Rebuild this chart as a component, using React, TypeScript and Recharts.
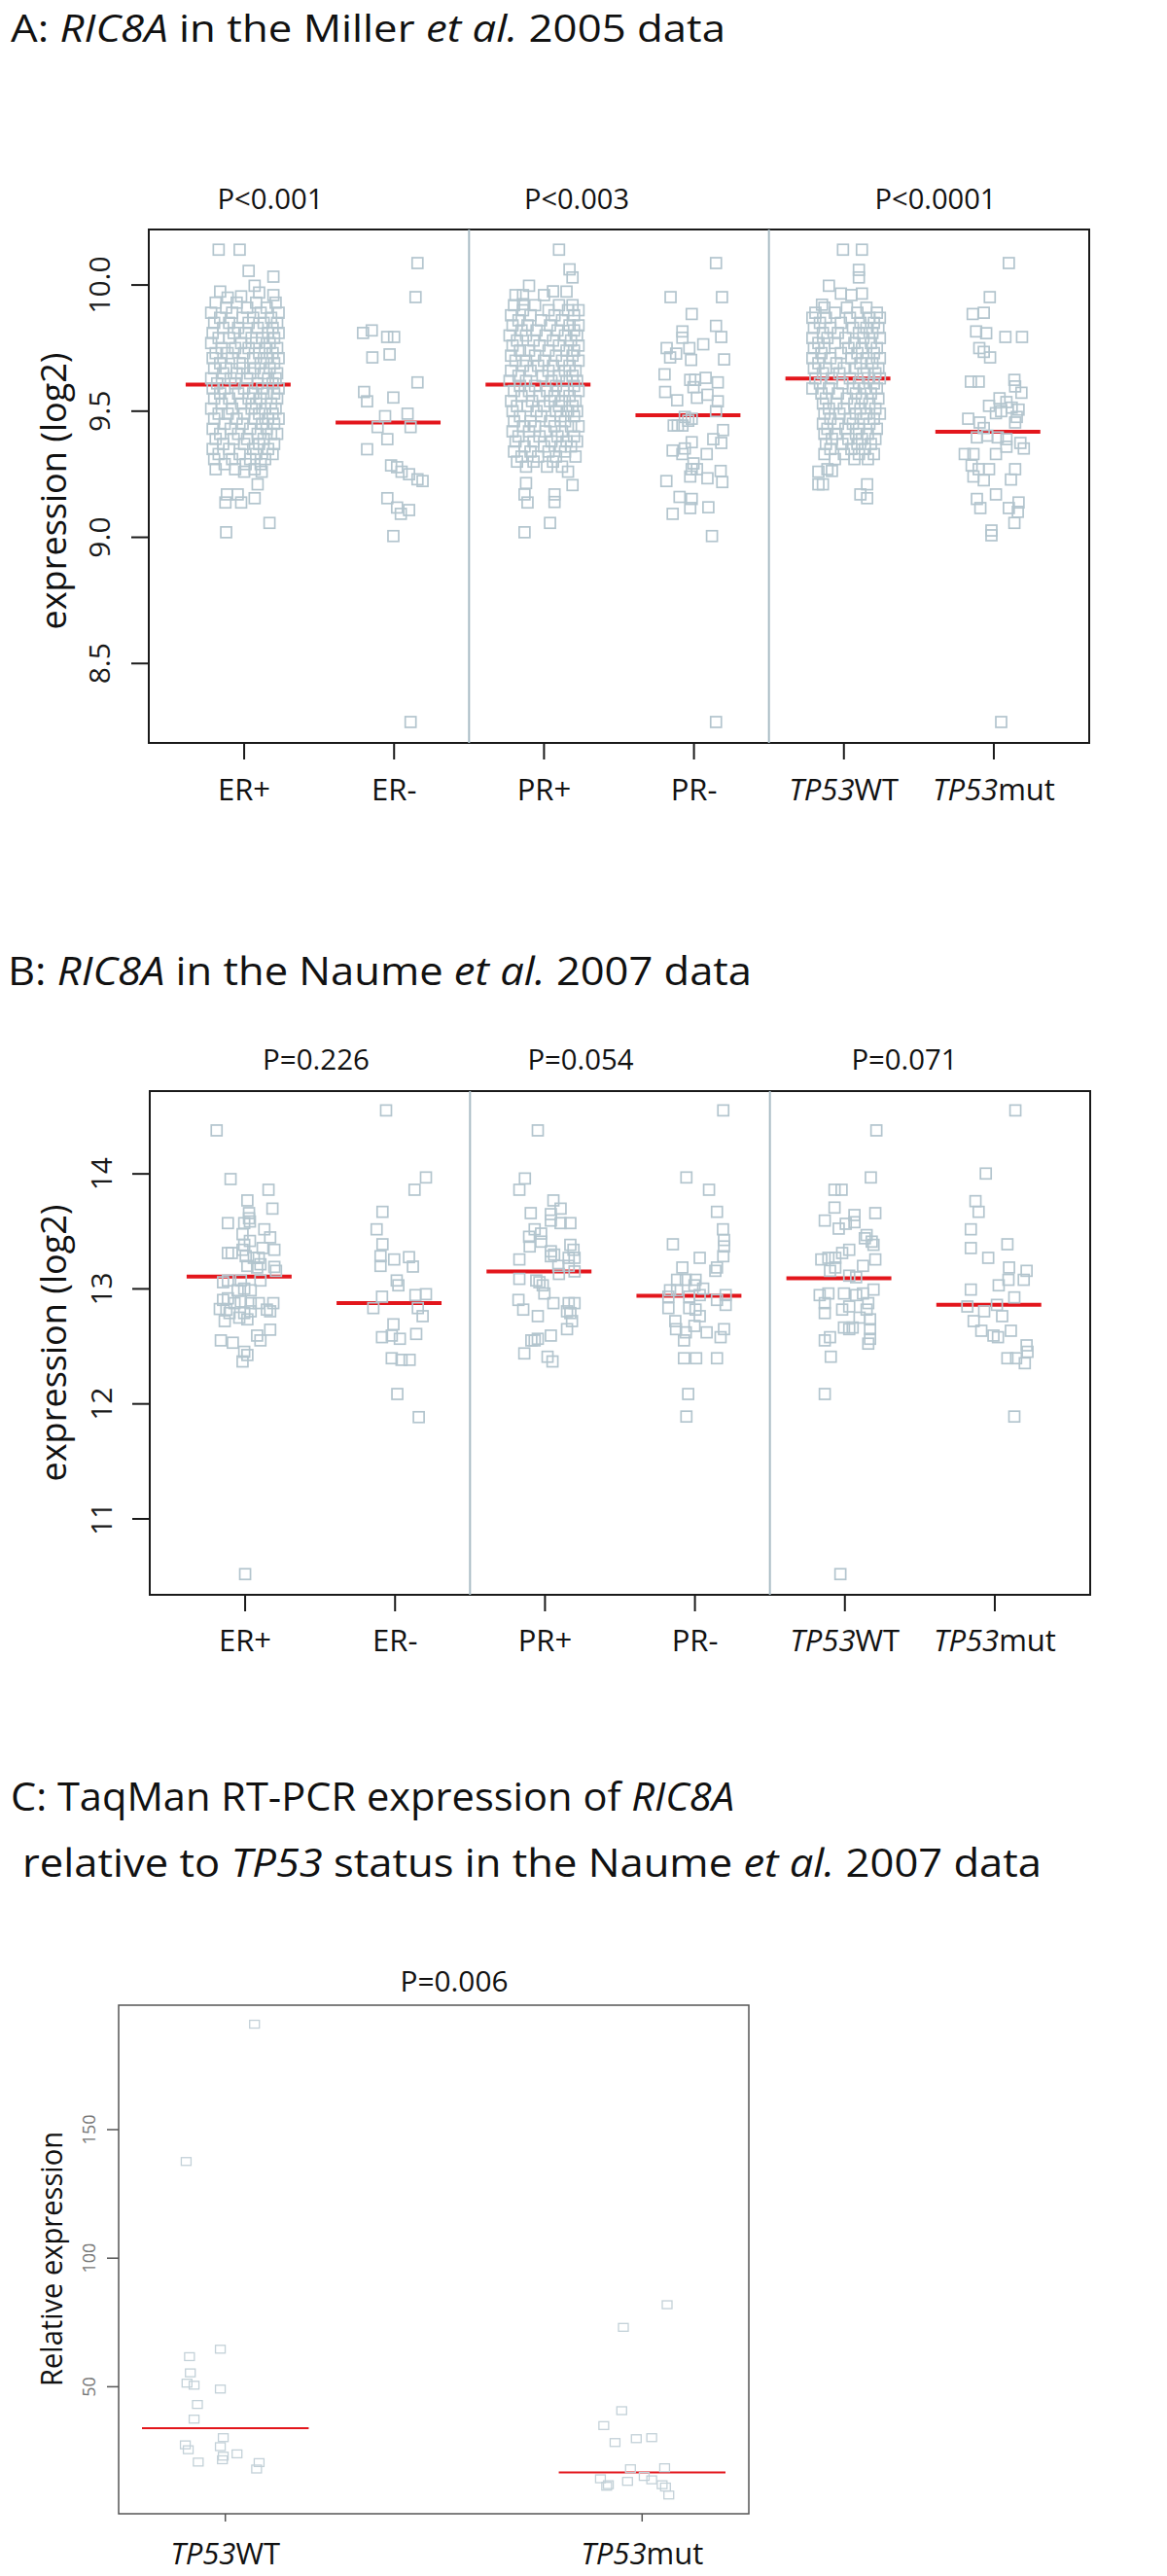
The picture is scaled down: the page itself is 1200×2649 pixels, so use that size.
import React from 'react';
import { ScatterChart, Scatter, XAxis, YAxis, ReferenceLine, ReferenceArea } from 'recharts';

type Pt = [number, number]; // [jitter around the category, value]
type Row = [number, number[]]; // [value, jitters of the squares drawn at that value]

const FONT = '"Open Sans", "DejaVu Sans", sans-serif';
const POINT = '#b3c5ce';
const SEP = '#a9bcc5';
const RED = '#e3161c';

// ---------- shared categories / labels ----------
const categoriesAB = ['ER+', 'ER-', 'PR+', 'PR-', 'TP53WT', 'TP53mut'];
const categoriesC = ['TP53WT', 'TP53mut'];
const pValuesA = ['P<0.001', 'P<0.003', 'P<0.0001'];
const pValuesB = ['P=0.226', 'P=0.054', 'P=0.071'];
const pValuesC = ['P=0.006'];
const ticksA = [8.5, 9.0, 9.5, 10.0];
const ticksB = [11, 12, 13, 14];
const ticksC = [50, 100, 150];
const meansA = [9.605, 9.455, 9.605, 9.484, 9.629, 9.418];
const meansB = [13.107, 12.876, 13.152, 12.94, 13.093, 12.861];
const meansC = [33.9, 16.7];

// ---------- panel A: Miller et al. 2005 ----------
const erPlusTopA: Pt[] = [[-0.17, 10.14], [-0.03, 10.14], [0.03, 10.056], [0.195, 10.033], [0.07, 9.997], [-0.16, 9.974], [-0.11, 9.95], [-0.02, 9.955], [0.1, 9.97], [0.195, 9.96]];
const erPlusBodyA: Row[] = [
  [9.93, [-0.19, -0.05, 0.08, 0.21]], [9.91, [-0.12, 0.02, 0.15]], [9.89, [-0.22, -0.08, 0.11, 0.23]],
  [9.87, [-0.16, -0.01, 0.06, 0.18]], [9.85, [-0.2, -0.1, 0.03, 0.13, 0.22]], [9.83, [-0.14, -0.04, 0.09, 0.19]],
  [9.81, [-0.21, -0.07, 0.01, 0.16, 0.23]], [9.79, [-0.17, -0.1, 0.05, 0.12, 0.2]], [9.77, [-0.22, -0.02, 0.08, 0.17]],
  [9.75, [-0.15, -0.06, 0.03, 0.14, 0.22]], [9.73, [-0.19, -0.11, 0.0, 0.1, 0.19]], [9.71, [-0.21, -0.08, 0.06, 0.15, 0.23]],
  [9.69, [-0.16, -0.03, 0.11, 0.2]], [9.67, [-0.2, -0.12, -0.01, 0.07, 0.17]], [9.65, [-0.14, -0.05, 0.04, 0.13, 0.22]],
  [9.63, [-0.22, -0.09, 0.02, 0.16, 0.21]], [9.61, [-0.18, -0.06, 0.09, 0.19]], [9.59, [-0.21, -0.13, 0.0, 0.12, 0.23]],
  [9.57, [-0.16, -0.04, 0.06, 0.15, 0.2]], [9.55, [-0.2, -0.1, 0.03, 0.11, 0.22]], [9.53, [-0.15, -0.02, 0.08, 0.18]],
  [9.51, [-0.22, -0.08, 0.05, 0.14, 0.21]], [9.49, [-0.17, -0.11, 0.0, 0.1, 0.19]], [9.47, [-0.2, -0.05, 0.07, 0.16, 0.23]],
  [9.45, [-0.13, -0.01, 0.12, 0.2]], [9.43, [-0.21, -0.09, 0.04, 0.15]], [9.41, [-0.16, -0.04, 0.09, 0.18, 0.22]],
  [9.39, [-0.19, -0.07, 0.02, 0.13]], [9.37, [-0.14, 0.0, 0.1, 0.2]], [9.35, [-0.21, -0.1, 0.06, 0.16]],
  [9.33, [-0.17, -0.03, 0.08, 0.19]], [9.31, [-0.2, -0.08, 0.04, 0.14]], [9.29, [-0.13, 0.01, 0.11]],
  [9.27, [-0.19, -0.06, 0.07]],
];
const erPlusLowA: Pt[] = [[0.0, 9.26], [0.117, 9.26], [0.09, 9.21], [-0.115, 9.17], [-0.043, 9.17], [-0.125, 9.138], [-0.02, 9.138], [0.07, 9.155], [-0.12, 9.02], [0.169, 9.057]];
const erMinusA: Pt[] = [
  [0.156, 10.087], [0.143, 9.952], [-0.207, 9.81], [-0.149, 9.82], [-0.046, 9.794], [0.0, 9.794], [-0.145, 9.713], [-0.03, 9.725],
  [0.156, 9.614], [-0.2, 9.576], [-0.18, 9.539], [-0.005, 9.554], [-0.06, 9.48], [0.09, 9.49], [-0.11, 9.437], [0.11, 9.437],
  [-0.045, 9.389], [-0.18, 9.349], [-0.02, 9.285], [0.02, 9.278], [0.05, 9.26], [0.1, 9.25], [0.156, 9.23], [0.19, 9.223],
  [-0.045, 9.155], [0.02, 9.118], [0.1, 9.108], [0.045, 9.093], [-0.005, 9.005], [0.11, 8.268],
];
const prPlusTopA: Pt[] = [[0.1, 10.14], [0.17, 10.062], [0.19, 10.03], [-0.1, 9.997], [0.15, 9.974], [-0.19, 9.96], [-0.14, 9.96], [-0.14, 9.924], [0.0, 9.96], [0.06, 9.975]];
const prPlusBodyA: Row[] = [
  [9.92, [-0.2, -0.06, 0.1, 0.19]], [9.9, [-0.14, 0.03, 0.16, 0.23]], [9.88, [-0.22, -0.09, 0.07, 0.2]],
  [9.86, [-0.17, -0.02, 0.12]], [9.84, [-0.21, -0.11, 0.04, 0.17, 0.23]], [9.82, [-0.15, -0.05, 0.09, 0.2]],
  [9.8, [-0.23, -0.12, 0.01, 0.14, 0.22]], [9.78, [-0.18, -0.07, 0.06, 0.18]], [9.76, [-0.21, -0.03, 0.1, 0.23]],
  [9.74, [-0.16, -0.1, 0.03, 0.15, 0.2]], [9.72, [-0.22, -0.06, 0.08, 0.19]], [9.7, [-0.19, -0.12, 0.0, 0.12, 0.23]],
  [9.68, [-0.14, -0.04, 0.06, 0.17]], [9.66, [-0.22, -0.09, 0.03, 0.14, 0.21]], [9.64, [-0.17, -0.01, 0.1, 0.19]],
  [9.62, [-0.23, -0.12, 0.05, 0.15, 0.22]], [9.6, [-0.16, -0.06, 0.08, 0.2]], [9.58, [-0.2, -0.1, 0.02, 0.13, 0.23]],
  [9.56, [-0.15, -0.03, 0.07, 0.17]], [9.54, [-0.22, -0.08, 0.04, 0.12, 0.21]], [9.52, [-0.18, -0.11, 0.0, 0.1, 0.19]],
  [9.5, [-0.21, -0.05, 0.08, 0.16, 0.22]], [9.48, [-0.16, -0.02, 0.11, 0.2]], [9.46, [-0.2, -0.09, 0.04, 0.14]],
  [9.44, [-0.14, -0.06, 0.07, 0.18, 0.23]], [9.42, [-0.21, -0.1, 0.01, 0.12]], [9.4, [-0.17, -0.03, 0.09, 0.2]],
  [9.38, [-0.19, -0.07, 0.05, 0.15, 0.22]], [9.36, [-0.13, 0.0, 0.11, 0.18]], [9.34, [-0.2, -0.09, 0.03, 0.14]],
  [9.32, [-0.15, -0.04, 0.08, 0.21]], [9.3, [-0.18, -0.07, 0.06]], [9.28, [-0.12, 0.02, 0.12]],
];
const prPlusLowA: Pt[] = [[0.16, 9.26], [0.19, 9.207], [-0.12, 9.215], [-0.13, 9.17], [-0.11, 9.138], [0.07, 9.17], [0.07, 9.14], [0.04, 9.057], [-0.13, 9.02]];
const prMinusA: Pt[] = [
  [0.147, 10.087], [-0.156, 9.952], [0.187, 9.952], [-0.015, 9.885], [-0.077, 9.816], [-0.077, 9.791], [0.147, 9.838], [0.182, 9.794],
  [0.062, 9.765], [-0.182, 9.75], [-0.119, 9.728], [-0.159, 9.713], [-0.031, 9.75], [-0.019, 9.703], [0.201, 9.705], [-0.196, 9.646],
  [-0.192, 9.576], [-0.025, 9.624], [0.008, 9.624], [-0.003, 9.595], [0.078, 9.632], [0.159, 9.614], [0.09, 9.565], [0.02, 9.553],
  [-0.112, 9.543], [0.159, 9.539], [0.147, 9.5], [-0.061, 9.477], [-0.038, 9.462], [-0.015, 9.47], [-0.135, 9.443], [-0.108, 9.443],
  [-0.077, 9.443], [0.194, 9.425], [0.129, 9.389], [0.182, 9.374], [-0.142, 9.344], [-0.077, 9.33], [-0.061, 9.352], [-0.015, 9.377],
  [0.085, 9.33], [-0.003, 9.293], [0.02, 9.27], [-0.015, 9.27], [-0.025, 9.241], [0.09, 9.234], [0.178, 9.263], [0.189, 9.219],
  [-0.184, 9.223], [-0.096, 9.16], [-0.015, 9.152], [-0.142, 9.093], [-0.025, 9.116], [0.096, 9.119], [0.12, 9.005], [0.147, 8.268],
];
const wtTopA: Pt[] = [[-0.006, 10.14], [0.12, 10.14], [0.1, 10.06], [0.1, 10.03], [-0.1, 9.997], [-0.02, 9.966], [0.05, 9.96], [0.12, 9.966], [-0.146, 9.922]];
const wtBodyA: Row[] = [
  [9.91, [-0.13, 0.02, 0.15]], [9.89, [-0.19, -0.06, 0.09, 0.22]], [9.87, [-0.21, -0.12, 0.04, 0.17, 0.24]],
  [9.85, [-0.16, -0.02, 0.11, 0.2]], [9.83, [-0.2, -0.09, 0.06, 0.15, 0.23]], [9.81, [-0.14, -0.04, 0.1, 0.19]],
  [9.79, [-0.21, -0.11, 0.01, 0.13, 0.24]], [9.77, [-0.17, -0.06, 0.07, 0.18]], [9.75, [-0.2, -0.13, 0.03, 0.12, 0.22]],
  [9.73, [-0.15, -0.02, 0.09, 0.2]], [9.71, [-0.21, -0.09, 0.05, 0.15, 0.24]], [9.69, [-0.17, -0.05, 0.11, 0.19]],
  [9.67, [-0.2, -0.12, 0.0, 0.08, 0.23]], [9.65, [-0.14, -0.03, 0.13, 0.21]], [9.63, [-0.19, -0.08, 0.04, 0.16, 0.24]],
  [9.61, [-0.16, -0.01, 0.1, 0.2]], [9.59, [-0.21, -0.1, 0.06, 0.14, 0.22]], [9.57, [-0.15, -0.04, 0.08, 0.18]],
  [9.55, [-0.12, 0.02, 0.12, 0.23]], [9.53, [-0.14, -0.05, 0.07, 0.17]], [9.51, [-0.1, 0.0, 0.11, 0.21]],
  [9.49, [-0.13, -0.03, 0.08, 0.15, 0.24]], [9.47, [-0.09, 0.04, 0.13, 0.2]], [9.45, [-0.14, -0.04, 0.06, 0.17]],
  [9.43, [-0.11, 0.01, 0.1, 0.22]], [9.41, [-0.13, -0.05, 0.08, 0.16]], [9.39, [-0.08, 0.03, 0.12, 0.21]],
  [9.37, [-0.12, -0.01, 0.09, 0.18]], [9.35, [-0.09, 0.05, 0.14]], [9.33, [-0.13, 0.0, 0.1, 0.2]],
  [9.31, [-0.06, 0.07, 0.16]],
];
const wtLowA: Pt[] = [[-0.17, 9.26], [-0.11, 9.27], [-0.08, 9.263], [-0.17, 9.21], [-0.14, 9.21], [0.155, 9.21], [0.11, 9.17], [0.155, 9.155]];
const mutA: Pt[] = [
  [0.1, 10.087], [-0.027, 9.952], [-0.141, 9.885], [-0.067, 9.89], [-0.118, 9.816], [-0.051, 9.809], [0.077, 9.794], [0.188, 9.794],
  [-0.097, 9.75], [-0.067, 9.735], [-0.025, 9.713], [-0.153, 9.617], [-0.101, 9.617], [0.137, 9.624], [0.142, 9.598], [0.184, 9.573],
  [0.038, 9.551], [0.084, 9.536], [0.119, 9.514], [0.165, 9.506], [-0.032, 9.521], [0.014, 9.492], [0.049, 9.5], [-0.171, 9.47],
  [-0.095, 9.455], [-0.067, 9.433], [0.153, 9.477], [0.142, 9.455], [-0.113, 9.396], [-0.044, 9.403], [0.026, 9.396], [0.084, 9.389],
  [0.177, 9.374], [0.2, 9.352], [-0.194, 9.33], [-0.136, 9.33], [0.084, 9.359], [0.014, 9.33], [-0.148, 9.285], [-0.101, 9.27],
  [-0.032, 9.27], [-0.136, 9.241], [-0.067, 9.226], [0.142, 9.27], [0.114, 9.229], [0.014, 9.17], [-0.113, 9.152], [-0.09, 9.116],
  [0.165, 9.138], [0.16, 9.101], [0.137, 9.057], [0.1, 9.116], [-0.016, 9.027], [-0.016, 9.008], [0.049, 8.268],
];

// ---------- panel B: Naume et al. 2007 ----------
const erPlusB: Pt[] = [
  [-0.19, 14.378], [-0.097, 13.955], [0.156, 13.862], [0.015, 13.769], [0.182, 13.698], [0.026, 13.659], [0.026, 13.614], [-0.115, 13.572],
  [-0.006, 13.572], [0.032, 13.586], [0.128, 13.518], [-0.017, 13.476], [0.167, 13.448], [-0.115, 13.312], [-0.089, 13.312], [-0.006, 13.383],
  [0.032, 13.417], [-0.017, 13.34], [0.091, 13.27], [0.117, 13.355], [0.195, 13.34], [0.004, 13.284], [0.058, 13.27], [0.195, 13.191],
  [0.206, 13.157], [0.015, 13.2], [0.08, 13.186], [0.102, 13.214], [-0.147, 13.058], [-0.115, 13.073], [-0.028, 13.073], [0.102, 13.073],
  [-0.05, 12.988], [-0.006, 13.002], [0.037, 12.988], [-0.115, 12.918], [-0.147, 12.904], [-0.071, 12.876], [-0.028, 12.89], [0.037, 12.876],
  [0.091, 12.876], [-0.169, 12.825], [-0.125, 12.82], [0.145, 12.82], [0.188, 12.876], [0.167, 12.805], [-0.104, 12.79], [-0.006, 12.79],
  [0.037, 12.805], [-0.136, 12.72], [-0.039, 12.75], [0.015, 12.735], [0.08, 12.594], [0.167, 12.645], [0.102, 12.552], [-0.162, 12.552],
  [-0.082, 12.532], [-0.006, 12.453], [0.015, 12.425], [-0.017, 12.369], [0.0, 10.52],
];
const erMinusB: Pt[] = [
  [-0.06, 14.552], [0.206, 13.969], [0.13, 13.862], [-0.084, 13.67], [-0.123, 13.518], [-0.084, 13.388], [-0.097, 13.284], [-0.097, 13.2],
  [-0.006, 13.256], [0.093, 13.276], [0.119, 13.194], [0.011, 13.073], [0.022, 13.031], [-0.087, 12.932], [-0.145, 12.833], [0.136, 12.946],
  [0.206, 12.954], [0.152, 12.833], [0.184, 12.763], [-0.011, 12.692], [-0.022, 12.594], [-0.087, 12.58], [0.032, 12.566], [0.141, 12.608],
  [-0.022, 12.397], [0.043, 12.383], [0.097, 12.383], [0.015, 12.086], [0.158, 11.885],
];
const prPlusB: Pt[] = [
  [-0.048, 14.378], [-0.134, 13.96], [-0.171, 13.862], [0.056, 13.769], [0.104, 13.698], [-0.095, 13.659], [0.039, 13.65], [0.039, 13.594],
  [0.104, 13.572], [0.169, 13.572], [-0.069, 13.518], [-0.026, 13.481], [-0.106, 13.453], [-0.026, 13.411], [-0.102, 13.369], [0.039, 13.327],
  [0.169, 13.383], [0.19, 13.34], [-0.171, 13.256], [0.039, 13.284], [0.061, 13.298], [0.158, 13.27], [0.197, 13.27], [0.158, 13.2],
  [0.197, 13.152], [0.089, 13.2], [0.093, 13.13], [-0.171, 13.087], [-0.037, 13.058], [-0.058, 13.073], [-0.015, 13.031], [-0.004, 12.96],
  [-0.177, 12.904], [-0.145, 12.82], [0.056, 12.876], [0.158, 12.876], [0.197, 12.876], [0.147, 12.805], [0.18, 12.72], [-0.048, 12.763],
  [0.169, 12.79], [0.147, 12.65], [0.039, 12.594], [-0.069, 12.552], [-0.091, 12.552], [-0.048, 12.566], [-0.138, 12.439], [0.017, 12.41],
  [0.05, 12.369],
];
const prMinusB: Pt[] = [
  [0.189, 14.552], [-0.057, 13.969], [0.094, 13.862], [0.147, 13.67], [0.187, 13.518], [0.194, 13.425], [0.194, 13.369], [0.189, 13.284],
  [-0.147, 13.388], [0.032, 13.27], [0.147, 13.186], [0.136, 13.157], [-0.084, 13.186], [-0.119, 13.079], [-0.061, 13.079], [0.004, 13.079],
  [-0.003, 13.031], [0.055, 13.002], [-0.166, 12.988], [-0.119, 12.988], [-0.177, 12.932], [-0.038, 12.932], [0.032, 12.946], [0.147, 12.904],
  [0.205, 12.946], [0.205, 12.861], [-0.177, 12.833], [-0.038, 12.833], [0.004, 12.82], [-0.131, 12.72], [0.032, 12.763], [-0.126, 12.65],
  [-0.061, 12.622], [-0.003, 12.678], [0.078, 12.622], [0.194, 12.65], [0.171, 12.58], [-0.073, 12.552], [-0.073, 12.397], [0.008, 12.397],
  [0.147, 12.397], [-0.045, 12.086], [-0.057, 11.89],
];
const wtB: Pt[] = [
  [0.21, 14.378], [0.173, 13.969], [-0.069, 13.862], [-0.022, 13.862], [-0.069, 13.707], [0.203, 13.659], [-0.134, 13.594], [0.064, 13.642],
  [0.064, 13.58], [-0.041, 13.524], [0.006, 13.566], [0.145, 13.468], [0.179, 13.411], [0.191, 13.383], [0.133, 13.44], [0.029, 13.34],
  [-0.018, 13.312], [-0.064, 13.27], [-0.11, 13.27], [-0.157, 13.256], [0.203, 13.256], [-0.099, 13.157], [-0.064, 13.186], [0.121, 13.2],
  [0.029, 13.115], [0.075, 13.101], [0.191, 12.994], [-0.168, 12.946], [-0.11, 12.96], [-0.006, 12.96], [0.075, 12.946], [0.121, 12.96],
  [0.156, 12.876], [0.145, 12.82], [-0.134, 12.876], [-0.134, 12.79], [-0.018, 12.82], [0.029, 12.847], [0.168, 12.735], [0.098, 12.75],
  [-0.006, 12.664], [0.029, 12.65], [0.052, 12.664], [0.168, 12.65], [0.168, 12.566], [0.156, 12.524], [-0.134, 12.552], [-0.099, 12.58],
  [-0.094, 12.41], [-0.134, 12.086], [-0.03, 10.52],
];
const mutB: Pt[] = [
  [0.137, 14.552], [-0.06, 14.003], [-0.129, 13.763], [-0.108, 13.67], [-0.16, 13.518], [-0.16, 13.355], [0.084, 13.388], [-0.044, 13.27],
  [0.095, 13.186], [0.212, 13.157], [0.193, 13.079], [0.091, 13.079], [0.026, 13.031], [-0.16, 12.994], [0.13, 12.926], [-0.183, 12.847],
  [-0.071, 12.805], [0.014, 12.861], [0.049, 12.763], [-0.141, 12.72], [-0.09, 12.636], [-0.009, 12.594], [0.021, 12.58], [0.107, 12.636],
  [0.212, 12.509], [0.218, 12.453], [0.2, 12.354], [0.142, 12.397], [0.084, 12.397], [0.13, 11.89],
];

// ---------- panel C: TaqMan RT-PCR ----------
const wtC: Pt[] = [
  [-0.094, 137.6], [0.07, 191], [-0.012, 64.6], [-0.086, 61.7], [-0.084, 55.4], [-0.092, 51.4], [-0.075, 50.6], [-0.012, 49.1],
  [-0.067, 43.1], [-0.075, 37.4], [-0.005, 30.2], [-0.096, 27.4], [-0.089, 25.5], [-0.012, 26.7], [0.028, 23.9], [-0.005, 23.0],
  [-0.007, 21.6], [-0.065, 20.7], [0.081, 20.5], [0.075, 18.0],
];
const mutC: Pt[] = [
  [0.06, 81.9], [-0.045, 73.1], [-0.049, 40.7], [-0.092, 34.9], [-0.065, 28.3], [-0.014, 29.8], [0.023, 30.2], [-0.028, 18.1],
  [0.054, 18.5], [-0.1, 14.2], [-0.081, 11.9], [-0.085, 11.3], [-0.035, 13.2], [0.005, 15.1], [0.023, 13.8], [0.048, 11.9],
  [0.056, 11.0], [0.064, 7.9],
];

const rows = (r: Row[]): Pt[] => r.flatMap(([v, js]) => js.map((j) => [j, v] as Pt));

type Cfg = {
  top: number; height: number;
  margin: { top: number; right: number; bottom: number; left: number };
  xDomain: [number, number]; yDomain: [number, number];
  yTicks: number[]; yFmt: (v: number) => string;
  labels: string[]; groups: Pt[][]; means: number[];
  meanL: number; meanR: number; meanW: number;
  separators: number[];
  ink: string; frameW: number;
  xTick: number; yTick: number;
  xDy: number; xSize: number;
  yDx: number; ySize: number; yColor: string;
  sq: number; sqH: number; sqW: number; sqColor: string;
};

function XLabel({ x, y, payload, c }: any) {
  const i = Math.round(payload.value) - 1;
  const label: string = c.labels[i];
  const italic = label.startsWith('TP53');
  return (
    <text x={x} y={y + c.xDy} textAnchor="middle" fontFamily={FONT} fontSize={c.xSize} fill="#111">
      {italic ? <><tspan fontStyle="italic">TP53</tspan>{label.slice(4)}</> : label}
    </text>
  );
}

function YLabel({ x, y, payload, c }: any) {
  return (
    <text transform={`translate(${x + c.yDx},${y}) rotate(-90)`} textAnchor="middle" fontFamily={FONT}
      fontSize={c.ySize} fill={c.yColor}>
      {c.yFmt(payload.value)}
    </text>
  );
}

function Panel({ c }: { c: Cfg }) {
  const data = c.groups.flatMap((g, i) => g.map(([j, v]) => ({ x: i + 1 + j, y: v })));
  const xTicks = c.labels.map((_, i) => i + 1);
  const square = (p: any) => (
    <rect x={p.cx - c.sq / 2} y={p.cy - c.sqH / 2} width={c.sq} height={c.sqH}
      fill="none" stroke={c.sqColor} strokeWidth={c.sqW} />
  );
  return (
    <div style={{ position: 'absolute', left: 0, top: c.top }}>
      <ScatterChart width={1200} height={c.height} margin={c.margin}>
        <XAxis type="number" dataKey="x" domain={c.xDomain} ticks={xTicks} interval={0} allowDataOverflow
          axisLine={false} tickSize={c.xTick} tickMargin={0} height={70}
          tickLine={{ stroke: c.ink, strokeWidth: c.frameW }}
          tick={(p: any) => <XLabel {...p} c={c} />} />
        <YAxis type="number" dataKey="y" domain={c.yDomain} ticks={c.yTicks} interval={0} allowDataOverflow
          axisLine={false} tickSize={c.yTick} tickMargin={0} width={60}
          tickLine={{ stroke: c.ink, strokeWidth: c.frameW }}
          tick={(p: any) => <YLabel {...p} c={c} />} />
        <Scatter data={data} isAnimationActive={false} shape={square} />
        {c.separators.map((s) => (
          <ReferenceLine key={'s' + s} x={s} stroke={SEP} strokeWidth={2} />
        ))}
        {c.means.map((m, i) => (
          <ReferenceLine key={'m' + i} segment={[{ x: i + 1 - c.meanL, y: m }, { x: i + 1 + c.meanR, y: m }]}
            stroke={RED} strokeWidth={c.meanW} ifOverflow="visible" />
        ))}
        <ReferenceArea x1={c.xDomain[0]} x2={c.xDomain[1]} y1={c.yDomain[0]} y2={c.yDomain[1]}
          fill="none" fillOpacity={0} stroke={c.ink} strokeWidth={c.frameW} ifOverflow="visible" />
      </ScatterChart>
    </div>
  );
}

const panelA: Cfg = {
  top: 150, height: 694, margin: { top: 86, right: 80, bottom: 10, left: 93 },
  xDomain: [0.364, 6.636], yDomain: [8.185, 10.22], yTicks: ticksA, yFmt: (v) => v.toFixed(1),
  labels: categoriesAB,
  groups: [
    [...erPlusTopA, ...rows(erPlusBodyA), ...erPlusLowA], erMinusA,
    [...prPlusTopA, ...rows(prPlusBodyA), ...prPlusLowA], prMinusA,
    [...wtTopA, ...rows(wtBodyA), ...wtLowA], mutA,
  ],
  means: meansA, meanL: 0.39, meanR: 0.31, meanW: 4, separators: [2.5, 4.5],
  ink: '#1a1a1a', frameW: 2, xTick: 17, yTick: 18, xDy: 42, xSize: 31,
  yDx: -22, ySize: 30, yColor: '#1a1a1a', sq: 11, sqH: 11, sqW: 1.7, sqColor: POINT,
};

const panelB: Cfg = {
  top: 1060, height: 660, margin: { top: 62, right: 79, bottom: 10, left: 94 },
  xDomain: [0.364, 6.636], yDomain: [10.34, 14.72], yTicks: ticksB, yFmt: (v) => String(v),
  labels: categoriesAB, groups: [erPlusB, erMinusB, prPlusB, prMinusB, wtB, mutB],
  means: meansB, meanL: 0.39, meanR: 0.31, meanW: 4, separators: [2.5, 4.5],
  ink: '#1a1a1a', frameW: 2, xTick: 17, yTick: 18, xDy: 41, xSize: 31,
  yDx: -21, ySize: 30, yColor: '#1a1a1a', sq: 11, sqH: 11, sqW: 1.7, sqColor: POINT,
};

const panelC: Cfg = {
  top: 2000, height: 649, margin: { top: 62, right: 430, bottom: -6, left: 62 },
  xDomain: [0.744, 2.256], yDomain: [0.6, 198.4], yTicks: ticksC, yFmt: (v) => String(v),
  labels: categoriesC, groups: [wtC, mutC],
  means: meansC, meanL: 0.2, meanR: 0.2, meanW: 2, separators: [],
  ink: '#555', frameW: 1.5, xTick: 8, yTick: 12, xDy: 44, xSize: 31,
  yDx: -12, ySize: 18, yColor: '#777', sq: 10, sqH: 8, sqW: 1.3, sqColor: '#c3d1d8',
};

const T = { fontFamily: FONT, fill: '#111' } as const;
const it = { fontStyle: 'italic' } as const;

export default function App() {
  return (
    <div style={{ position: 'relative', width: 1200, height: 2649, background: '#fff', overflow: 'hidden' }}>
      <style>{'body{margin:0}'}</style>
      <Panel c={panelA} />
      <Panel c={panelB} />
      <Panel c={panelC} />
      <svg width={1200} height={2649} style={{ position: 'absolute', left: 0, top: 0, pointerEvents: 'none' }}>
        <text x={11} y={43} fontSize={39} textLength={735} lengthAdjust="spacingAndGlyphs" {...T}>
          A: <tspan {...it}>RIC8A</tspan> in the Miller <tspan {...it}>et al.</tspan> 2005 data
        </text>
        <text x={8} y={1013} fontSize={40} textLength={765} lengthAdjust="spacingAndGlyphs" {...T}>
          B: <tspan {...it}>RIC8A</tspan> in the Naume <tspan {...it}>et al.</tspan> 2007 data
        </text>
        <text x={11} y={1862} fontSize={40} textLength={744} lengthAdjust="spacingAndGlyphs" {...T}>
          C: TaqMan RT-PCR expression of <tspan {...it}>RIC8A</tspan>
        </text>
        <text x={23} y={1930} fontSize={40} textLength={1048} lengthAdjust="spacingAndGlyphs" {...T}>
          relative to <tspan {...it}>TP53</tspan> status in the Naume <tspan {...it}>et al.</tspan> 2007 data
        </text>

        {[278, 593, 962].map((cx, i) => (
          <text key={'pa' + i} x={cx} y={215} fontSize={29} textAnchor="middle" textLength={[109, 108, 125][i]} lengthAdjust="spacingAndGlyphs" {...T}>{pValuesA[i]}</text>
        ))}
        {[325, 597, 930].map((cx, i) => (
          <text key={'pb' + i} x={cx} y={1100} fontSize={29} textAnchor="middle" textLength={[110, 109, 109][i]} lengthAdjust="spacingAndGlyphs" {...T}>{pValuesB[i]}</text>
        ))}
        <text x={467} y={2048} fontSize={29} textAnchor="middle" textLength={111} lengthAdjust="spacingAndGlyphs" {...T}>{pValuesC[0]}</text>

        <text transform="translate(68,505) rotate(-90)" textAnchor="middle" fontSize={36} textLength={285} lengthAdjust="spacingAndGlyphs" {...T}>expression (log2)</text>
        <text transform="translate(68,1381) rotate(-90)" textAnchor="middle" fontSize={36} textLength={285} lengthAdjust="spacingAndGlyphs" {...T}>expression (log2)</text>
        <text transform="translate(64,2323) rotate(-90)" textAnchor="middle" fontSize={31} textLength={262} lengthAdjust="spacingAndGlyphs" {...T}>Relative expression</text>
      </svg>
    </div>
  );
}
